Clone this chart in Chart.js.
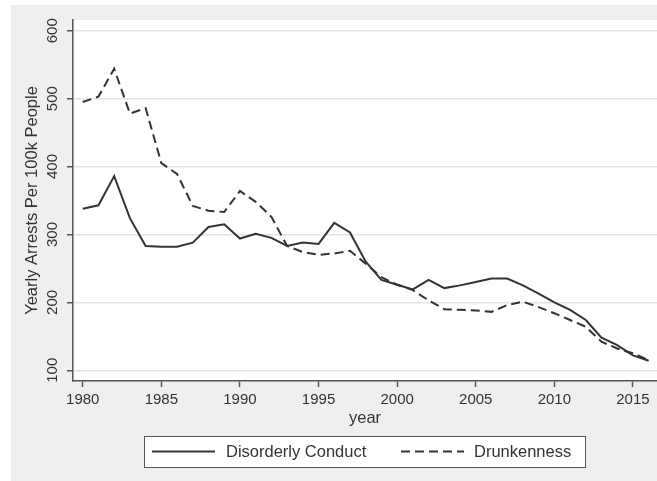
<!DOCTYPE html>
<html>
<head>
<meta charset="utf-8">
<script src="https://cdn.jsdelivr.net/npm/chart.js@4.4.0/dist/chart.umd.min.js"></script>
<style>
  html, body { margin: 0; padding: 0; background: #fff; }
  #wrap { width: 657px; height: 481px; }
</style>
</head>
<body>
<div id="wrap"><canvas id="chart" width="657" height="481"></canvas></div>
<script>
/* ---------- data ---------- */
const years = [1980, 1981, 1982, 1983, 1984, 1985, 1986, 1987, 1988, 1989,
  1990, 1991, 1992, 1993, 1994, 1995, 1996, 1997, 1998, 1999,
  2000, 2001, 2002, 2003, 2004, 2005, 2006, 2007, 2008, 2009,
  2010, 2011, 2012, 2013, 2014, 2015, 2016];
const disorderly = [338, 343, 386, 324, 283, 282, 282, 288, 311, 315,
  294, 301, 295, 283, 288, 286, 317, 303, 260, 233,
  226, 219, 233, 221, 225, 230, 235, 235, 225, 213,
  200, 189, 174, 148, 137, 122, 114];
const drunkenness = [495, 503, 544, 478, 486, 405, 389, 342, 335, 333,
  364, 348, 326, 283, 274, 270, 272, 276, 257, 237,
  226, 218, 203, 190, 189, 188, 186, 196, 201, 193,
  184, 174, 164, 142, 132, 125, 115];
const xTicks = [1980, 1985, 1990, 1995, 2000, 2005, 2010, 2015];
const yTicks = [100, 200, 300, 400, 500, 600];
const seriesNames = ['Disorderly Conduct', 'Drunkenness'];

const FONT = '"Liberation Sans", Arial, Helvetica, sans-serif';
const INK = '#333';
const AXIS = '#555';

const toPoints = vals => years.map((y, i) => ({ x: y, y: vals[i] }));

/* ---------- background + legend ---------- */
const frame = {
  id: 'frame',
  beforeDraw(chart) {
    const { ctx, chartArea: a } = chart;
    ctx.save();
    ctx.fillStyle = '#efefef';
    ctx.fillRect(11, 5, 646, 476);
    ctx.fillStyle = '#fff';
    ctx.fillRect(a.left, a.top, a.right - a.left, a.bottom - a.top);
    ctx.restore();
  },
  afterDraw(chart) {
    const ctx = chart.ctx;
    const ds = chart.data.datasets;
    ctx.save();
    ctx.fillStyle = '#fff';
    ctx.fillRect(144, 436, 442, 32);
    ctx.strokeStyle = AXIS;
    ctx.lineWidth = 1;
    ctx.strokeRect(144.5, 436.5, 441, 31);

    const items = [
      { x0: 152, x1: 215, tx: 226 },
      { x0: 401, x1: 464, tx: 474 }
    ];
    items.forEach((it, i) => {
      ctx.strokeStyle = ds[i].borderColor;
      ctx.lineWidth = 2;
      ctx.setLineDash(ds[i].borderDash || []);
      ctx.beginPath();
      ctx.moveTo(it.x0, 451.5);
      ctx.lineTo(it.x1, 451.5);
      ctx.stroke();
      ctx.setLineDash([]);
      ctx.fillStyle = INK;
      ctx.font = '16.5px ' + FONT;
      ctx.textBaseline = 'middle';
      ctx.textAlign = 'left';
      ctx.fillText(ds[i].label, it.tx, 452);
    });
    ctx.restore();
  }
};

new Chart(document.getElementById('chart'), {
  type: 'line',
  data: {
    datasets: [
      {
        label: seriesNames[0],
        data: toPoints(disorderly),
        borderColor: '#333',
        borderWidth: 2,
        pointRadius: 0,
        tension: 0,
        fill: false
      },
      {
        label: seriesNames[1],
        data: toPoints(drunkenness),
        borderColor: '#333',
        borderWidth: 2,
        borderDash: [9, 5],
        pointRadius: 0,
        tension: 0,
        fill: false
      }
    ]
  },
  options: {
    responsive: false,
    devicePixelRatio: 1,
    animation: false,
    layout: { padding: { left: 11, top: 20, right: 0, bottom: 53 } },
    plugins: {
      legend: { display: false },
      tooltip: { enabled: false }
    },
    scales: {
      x: {
        type: 'linear',
        min: 1979.38,
        max: 2016.53,
        afterBuildTicks: s => { s.ticks = xTicks.map(v => ({ value: v })); },
        afterFit: s => { s.height = 47; },
        ticks: {
          font: { family: FONT, size: 15 },
          color: INK,
          padding: 4,
          maxRotation: 0,
          callback: v => String(v)
        },
        grid: {
          drawOnChartArea: false,
          drawTicks: true,
          tickLength: 6,
          tickColor: AXIS,
          tickWidth: 1.5
        },
        border: { display: true, color: AXIS, width: 1.5 },
        title: {
          display: true,
          text: 'year',
          font: { family: FONT, size: 16.5 },
          color: INK,
          padding: { top: 0, bottom: 0 }
        }
      },
      y: {
        min: 84.2,
        max: 615.8,
        afterBuildTicks: s => { s.ticks = yTicks.map(v => ({ value: v })); },
        afterFit: s => { s.width = 62; },
        ticks: {
          font: { family: FONT, size: 15 },
          color: INK,
          minRotation: 90,
          maxRotation: 90,
          crossAlign: 'center',
          padding: 1.5
        },
        grid: {
          color: '#e4e4e4',
          lineWidth: 1.5,
          drawTicks: true,
          tickLength: 6,
          tickColor: AXIS,
          tickWidth: 1.5
        },
        border: { display: true, color: AXIS, width: 1.5 },
        title: {
          display: true,
          text: 'Yearly Arrests Per 100k People',
          font: { family: FONT, size: 16.5 },
          color: INK,
          padding: { top: 12, bottom: 0 }
        }
      }
    }
  },
  plugins: [frame]
});
</script>
</body>
</html>
